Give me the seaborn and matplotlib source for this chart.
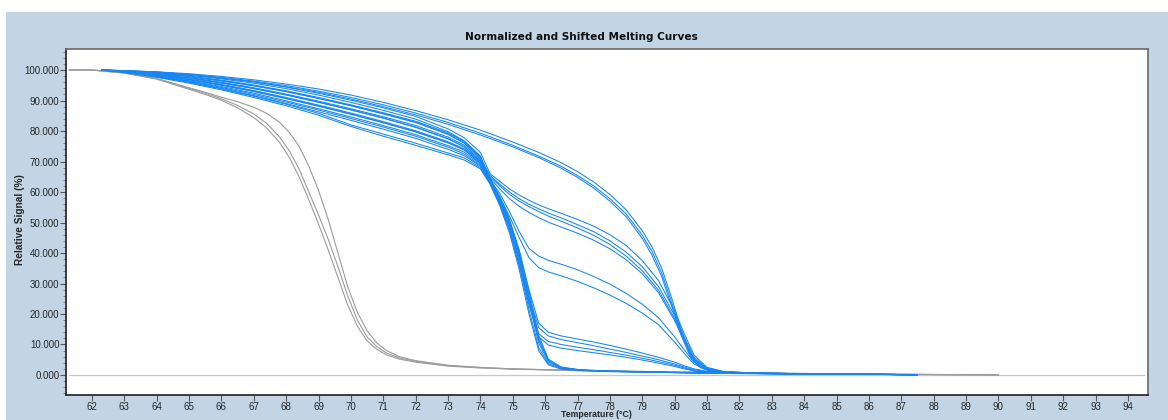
import seaborn as sns
import matplotlib.pyplot as plt
import pandas as pd
from matplotlib.patches import Rectangle
from matplotlib.ticker import MultipleLocator, FormatStrFormatter

# temperature grids (deg C)
t_gray = [61.3, 62, 63, 64, 65, 65.5, 66, 66.5, 67, 67.4, 67.8, 68.1, 68.4, 68.7, 69, 69.3,
          69.6, 69.9, 70.2, 70.5, 70.8, 71.1, 71.5, 72, 73, 74, 75, 77, 80, 84, 90]
t_blue = [62.3, 63, 64, 65, 66, 67, 68, 69, 70, 71, 72, 73, 73.5, 74,
          74.3, 74.6, 74.9, 75.2, 75.5, 75.8, 76.1, 76.5, 77, 77.5, 78, 78.5, 79, 79.5,
          80, 80.3, 80.6, 81, 81.5, 82.5, 85, 87.5]
t_high = [62.3, 63, 64, 65, 66, 67, 68, 69, 70, 71, 72, 73, 74, 75, 75.8, 76.5, 77, 77.5,
          78, 78.5, 79, 79.3, 79.6, 79.9, 80.2, 80.5, 80.8, 81.1, 81.5, 82.5, 85, 87.5]
t_base = [61.3, 94.5]
base_line = [0.0, 0.0]

# grey curves (early melting)
gray_1 = [100, 100, 99.1, 97.2, 94.2, 92.7, 91.1, 89.6, 87.8, 85.8, 82.8, 79.5, 75, 68.5, 60.5, 51,
          40, 29, 20.5, 14.5, 10.5, 8.0, 6.0, 4.7, 3.2, 2.5, 2.0, 1.5, 1.0, 0.5, 0.0]
gray_2 = [100, 100, 99.1, 97.2, 94.0, 92.4, 90.6, 88.4, 85.6, 82.5, 78, 73.5, 67.5, 60, 52.5, 44.5,
          35.5, 26, 18, 12.5, 9.3, 7.2, 5.6, 4.5, 3.1, 2.4, 2.0, 1.5, 1.0, 0.5, 0.0]
gray_3 = [100, 100, 99.0, 97.0, 93.7, 92.0, 90.1, 87.6, 84.4, 81.0, 76.2, 71.3, 65, 57.5, 49.5, 41,
          32, 23, 16, 11.2, 8.4, 6.6, 5.2, 4.2, 2.9, 2.3, 1.9, 1.4, 0.9, 0.4, 0.0]

# blue curves, sharp melt near 75
blue_a1 = [100, 99.8, 99.2, 98.3, 97.1, 95.7, 93.9, 91.8, 89.4, 86.8, 83.9, 79.8, 76.8, 71.8,
           64.5, 58.5, 51, 41, 27.5, 13, 5.2, 2.6, 1.8, 1.5, 1.3, 1.2, 1.1, 1.0, 0.9, 0.8, 0.8, 0.7, 0.6, 0.5, 0.3, 0.1]
blue_a2 = [100, 99.6, 98.7, 97.4, 95.8, 94.0, 91.9, 89.5, 87.0, 84.3, 81.3, 77.5, 74.8, 70.3,
           63.5, 57, 49, 38, 24, 10.5, 4.2, 2.3, 1.7, 1.4, 1.2, 1.1, 1.0, 0.9, 0.8, 0.8, 0.7, 0.7, 0.6, 0.5, 0.3, 0.1]
blue_a3 = [100, 99.4, 98.0, 96.3, 94.3, 92.0, 89.5, 86.9, 84.1, 81.3, 78.3, 74.7, 72.5, 68.7,
           63, 56, 47.5, 36, 21.5, 9, 3.7, 2.1, 1.6, 1.3, 1.2, 1.1, 1.0, 0.9, 0.8, 0.7, 0.7, 0.6, 0.6, 0.5, 0.3, 0.1]
blue_a4 = [100, 99.7, 99.0, 97.9, 96.5, 94.9, 93.0, 90.7, 88.3, 85.6, 82.8, 78.9, 76.0, 71.2,
           64, 58, 50.5, 40, 26, 12, 4.8, 2.5, 1.8, 1.5, 1.3, 1.2, 1.0, 0.9, 0.8, 0.8, 0.7, 0.7, 0.6, 0.5, 0.3, 0.1]
blue_a5 = [100, 99.2, 97.6, 95.7, 93.5, 91.0, 88.3, 85.2, 81.5, 78.3, 75.3, 72.2, 70.5, 67.6,
           62.5, 55.5, 46.5, 34.5, 20, 8, 3.3, 1.9, 1.5, 1.3, 1.1, 1.0, 0.9, 0.8, 0.8, 0.7, 0.7, 0.6, 0.5, 0.4, 0.2, 0.1]
blue_a6 = [100, 99.5, 98.4, 96.9, 95.1, 93.1, 90.8, 88.3, 85.6, 82.8, 79.8, 76.2, 73.9, 69.6,
           63.5, 57.5, 50, 39.5, 25, 11.5, 4.6, 2.4, 1.7, 1.4, 1.2, 1.1, 1.0, 0.9, 0.8, 0.8, 0.7, 0.7, 0.6, 0.5, 0.3, 0.1]

# blue curves with a ~10 % shoulder
blue_b1 = [100, 99.7, 99.1, 98.0, 96.7, 95.1, 93.2, 91.0, 88.6, 86.0, 83.2, 79.4, 76.6, 71.6,
           64, 58, 50.5, 40.5, 28, 17, 14, 12.8, 11.8, 10.8, 9.7, 8.5, 7.2, 5.8, 4.2, 3.0, 2.0, 1.2, 0.8, 0.6, 0.3, 0.1]
blue_b2 = [100, 99.5, 98.3, 96.8, 95.0, 92.9, 90.6, 88.1, 85.5, 82.7, 79.7, 76.1, 73.8, 69.5,
           63.5, 57, 49, 38.5, 26, 15.5, 12.8, 11.6, 10.6, 9.6, 8.5, 7.4, 6.2, 5.0, 3.6, 2.6, 1.7, 1.1, 0.8, 0.6, 0.3, 0.1]
blue_b3 = [100, 99.6, 98.6, 97.3, 95.7, 93.9, 91.8, 89.4, 86.9, 84.2, 81.2, 77.4, 74.9, 70.2,
           63, 56.5, 48, 37, 24, 13.5, 11, 10, 9.1, 8.3, 7.4, 6.5, 5.5, 4.4, 3.2, 2.3, 1.5, 1.0, 0.7, 0.5, 0.3, 0.1]
blue_b4 = [100, 99.3, 97.8, 96.0, 93.8, 91.4, 88.8, 85.8, 82.0, 79.0, 76.0, 72.8, 71.2, 68.0,
           63, 56, 47.5, 36, 23, 12.5, 9.8, 8.8, 8.0, 7.3, 6.6, 5.8, 4.9, 3.9, 2.8, 2.0, 1.3, 0.9, 0.7, 0.5, 0.3, 0.1]

# blue curves with a ~50 % shoulder
blue_c1 = [100, 99.8, 99.4, 98.5, 97.4, 96.1, 94.4, 92.4, 90.1, 87.6, 84.8, 80.7, 77.8, 73.0,
           66, 63.5, 61, 59, 57.3, 55.8, 54.5, 53, 51, 48.8, 46, 42.5, 37.5, 31, 21, 13.5, 6.5, 2.5, 1.2, 0.6, 0.3, 0.1]
blue_c2 = [100, 99.6, 98.8, 97.5, 96.0, 94.2, 92.1, 89.8, 87.3, 84.7, 81.8, 78.0, 75.4, 70.8,
           65.5, 62.5, 60, 57.8, 56, 54.5, 53.1, 51.5, 49.3, 47, 44, 40.3, 35.5, 29, 19.5, 12.3, 5.8, 2.2, 1.1, 0.6, 0.3, 0.1]
blue_c3 = [100, 99.4, 98.2, 96.5, 94.6, 92.4, 89.9, 87.3, 84.6, 81.8, 78.8, 75.2, 73.1, 69.2,
           65, 62, 59.2, 57, 55.2, 53.6, 52.1, 50.4, 48.2, 45.8, 42.8, 39, 34.2, 27.8, 18.5, 11.5, 5.3, 2.1, 1.1, 0.6, 0.3, 0.1]
blue_c4 = [100, 99.5, 98.5, 97.0, 95.3, 93.3, 91.0, 88.5, 85.9, 83.1, 80.1, 76.5, 74.2, 70.0,
           64.5, 61, 57.8, 55.3, 53.3, 51.6, 50.1, 48.5, 46.5, 44.2, 41.4, 37.8, 33.2, 27, 17.8, 11, 5, 2.0, 1.0, 0.6, 0.3, 0.1]

# blue curves with a ~35 % shoulder
blue_l1 = [100, 99.7, 98.9, 97.8, 96.4, 94.8, 92.9, 90.7, 88.3, 85.7, 82.9, 79.0, 76.2, 71.3,
           64, 59.5, 53.5, 47, 41.5, 39, 37.6, 36.3, 34.5, 32.3, 29.8, 26.8, 23.2, 18.8, 12.5, 8.2, 4.2, 1.8, 0.9, 0.5, 0.3, 0.1]
blue_l2 = [100, 99.3, 97.9, 96.1, 94.0, 91.6, 89.0, 86.3, 83.5, 80.6, 77.6, 74.0, 71.9, 68.5,
           63.5, 58.5, 52, 45, 38.5, 35.2, 33.8, 32.5, 30.7, 28.6, 26.2, 23.5, 20.3, 16.5, 10.8, 7, 3.6, 1.6, 0.9, 0.5, 0.3, 0.1]

# blue curves, late melting near 80
blue_d1 = [100, 99.8, 99.4, 98.8, 97.9, 96.8, 95.4, 93.8, 91.8, 89.4, 86.7, 83.7, 80.3, 76.4, 73.0, 69.6,
           66.7, 63.3, 59.2, 54.2, 47.3, 42, 35, 25.5, 15, 6.5, 2.8, 1.5, 1.0, 0.6, 0.3, 0.1]
blue_d2 = [100, 99.8, 99.3, 98.6, 97.6, 96.4, 94.9, 93.1, 91.0, 88.6, 85.9, 82.8, 79.3, 75.3, 71.8, 68.4,
           65.4, 62.0, 57.8, 52.8, 45.8, 40.5, 33.5, 24, 14, 6, 2.6, 1.4, 0.9, 0.6, 0.3, 0.1]
blue_d3 = [100, 99.7, 99.2, 98.4, 97.4, 96.1, 94.5, 92.7, 90.5, 88.0, 85.3, 82.2, 78.7, 74.8, 71.3, 67.8,
           64.8, 61.3, 57.0, 51.9, 44.8, 39.3, 32.2, 22.8, 13, 5.5, 2.4, 1.3, 0.9, 0.6, 0.3, 0.1]

gray_curves = {'g1': gray_1, 'g2': gray_2, 'g3': gray_3}
blue_curves = {'a1': blue_a1, 'a2': blue_a2, 'a3': blue_a3, 'a4': blue_a4, 'a5': blue_a5, 'a6': blue_a6,
               'b1': blue_b1, 'b2': blue_b2, 'b3': blue_b3, 'b4': blue_b4,
               'c1': blue_c1, 'c2': blue_c2, 'c3': blue_c3, 'c4': blue_c4,
               'l1': blue_l1, 'l2': blue_l2}
high_curves = {'d1': blue_d1, 'd2': blue_d2, 'd3': blue_d3}


def long_table(curves, temps):
    rows = []
    for name, vals in curves.items():
        for t, v in zip(temps, vals):
            rows.append({'curve': name, 'temp': t, 'signal': v})
    return pd.DataFrame(rows)


df_gray = long_table(gray_curves, t_gray)
df_blue = pd.concat([long_table(blue_curves, t_blue), long_table(high_curves, t_high)])
df_base = pd.DataFrame({'temp': t_base, 'signal': base_line})

sns.set_style('white')
plt.rcParams['font.family'] = ['Liberation Sans', 'DejaVu Sans']

fig = plt.figure(figsize=(11.68, 4.2), dpi=100, facecolor='white')
fig.add_artist(Rectangle((6 / 1168, 0), 1, 408 / 420, transform=fig.transFigure,
                         facecolor='#c3d5e5', edgecolor='none', zorder=-5))
ax = fig.add_axes([66 / 1168, 25 / 420, 1082 / 1168, 346 / 420])
ax.set_facecolor('white')

sns.lineplot(data=df_base, x='temp', y='signal', color='#c8c8c8', lw=0.9, ax=ax)
sns.lineplot(data=df_gray, x='temp', y='signal', units='curve', estimator=None,
             color='#9c9c9c', lw=0.8, ax=ax)
sns.lineplot(data=df_blue, x='temp', y='signal', units='curve', estimator=None,
             color='#1686f2', lw=0.75, ax=ax)

ax.set_xlim(61.2, 94.62)
ax.set_ylim(-6.56, 106.9)
ax.xaxis.set_major_locator(MultipleLocator(1))
ax.yaxis.set_major_locator(MultipleLocator(10))
ax.yaxis.set_minor_locator(MultipleLocator(2))
ax.yaxis.set_major_formatter(FormatStrFormatter('%.3f'))
ax.tick_params(axis='both', which='major', direction='out', length=4, width=0.8,
               color='#555555', labelsize=7, pad=0.8, left=True, bottom=True)
ax.tick_params(axis='y', which='minor', direction='out', length=2, width=0.6,
               color='#777777', left=True)
ax.set_xlabel('')
ax.set_ylabel('')
for side in ['left', 'bottom']:
    ax.spines[side].set_color('#202020')
    ax.spines[side].set_linewidth(1.2)
for side in ['top', 'right']:
    ax.spines[side].set_color('#6a6a6a')
    ax.spines[side].set_linewidth(1.2)

fig.text(581 / 1168, 383 / 420, 'Normalized and Shifted Melting Curves', family='DejaVu Sans',
         ha='center', va='center', fontsize=7.6, fontweight='heavy', color='#111111')
fig.text(20 / 1168, 0.477, 'Relative Signal (%)', rotation=90,
         ha='center', va='center', fontsize=7.3, fontweight='bold')
fig.text(596 / 1168, 10 / 420, 'Temperature (°C)',
         ha='center', va='top', fontsize=6.3, fontweight='bold')

fig.savefig('out.png', dpi=100, facecolor='white')
